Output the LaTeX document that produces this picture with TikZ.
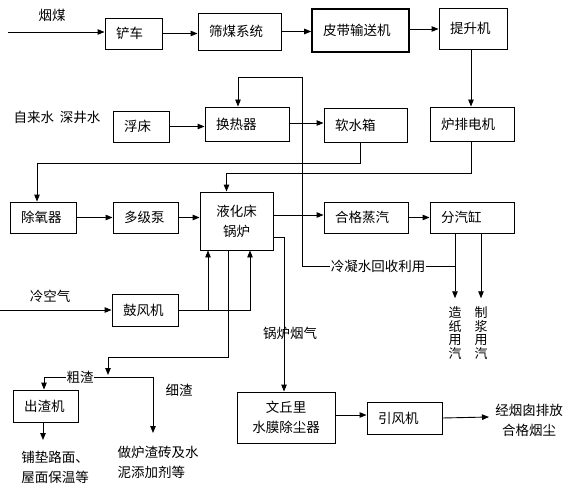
\documentclass[tikz,border=0pt]{standalone}
\usepackage{fontspec}
\setmainfont{Noto Sans CJK SC}
\usetikzlibrary{arrows.meta}
\lineskiplimit=-20pt
\lineskip=0pt
\begin{document}
\begin{tikzpicture}[x=1pt,y=-1pt,
  every node/.style={font=\fontsize{13.5}{20}\selectfont},
  box/.style={draw, line width=0.9pt, inner xsep=11pt, inner ysep=0pt, align=left},
  cbox/.style={draw, line width=0.9pt, inner xsep=6pt, inner ysep=0pt, align=center},
  lbl/.style={inner sep=1pt},
  vtext/.style={inner sep=0pt, align=center, font=\fontsize{13}{13.7}\selectfont},
  arr/.style={line width=0.9pt, -{Triangle[length=7pt,width=5.5pt]}},
  ln/.style={line width=0.9pt}]
\useasboundingbox (0,0) rectangle (573,500);

% boxes
\node[box, text width=35pt, minimum height=31pt] (chanche) at (133.5,33.5) {铲车};
\node[box, text width=61pt, minimum height=37pt] (shai) at (239.5,31.5) {筛煤系统};
\node[box, line width=1.6pt, text width=75pt, minimum height=43pt] (pidai) at (360.5,30.5) {皮带输送机};
\node[box, text width=46pt, minimum height=41pt] (tisheng) at (473,28.5) {提升机};
\node[box, text width=62pt, minimum height=34pt] (lupai) at (472,124) {炉排电机};
\node[box, text width=34pt, minimum height=31pt] (fuchuang) at (141,126.5) {浮床};
\node[box, text width=62pt, minimum height=34pt] (huanre) at (247,124) {换热器};
\node[box, text width=61pt, minimum height=34pt] (ruanshui) at (365.5,125) {软水箱};
\node[box, text width=44pt, minimum height=31pt] (chuyang) at (43,217.5) {除氧器};
\node[box, text width=43pt, minimum height=31pt] (duoji) at (145.5,217.5) {多级泵};
\node[cbox, minimum width=73pt, minimum height=58pt] (guolu) at (236.5,221) {液化床\\锅炉};
\node[box, text width=62pt, minimum height=31pt] (hege) at (366,217.5) {合格蒸汽};
\node[box, text width=62pt, minimum height=31pt] (fenqi) at (472,217.5) {分汽缸};
\node[box, text width=44pt, minimum height=32pt] (gufeng) at (145,310) {鼓风机};
\node[box, text width=43pt, minimum height=32pt] (chuzha) at (45.5,406) {出渣机};
\node[cbox, minimum width=98pt, minimum height=51pt] (wenqiu) at (286,417.5) {文丘里\\水膜除尘器};
\node[box, text width=53pt, minimum height=32pt] (yinfeng) at (404.5,418) {引风机};

% labels
\node[lbl] (yanmei) at (52,15) {烟煤};
\node[lbl] (shui) at (57,117) {自来水\hspace{6pt}深井水};
\node[lbl] (lengkong) at (50,296) {冷空气};
\node[lbl] (lengning) at (378,266) {冷凝水回收利用};
\node[lbl] (yanqi) at (290,333) {锅炉烟气};
\node[inner sep=0pt] (cuzha) at (80,377) {粗渣};
\node[lbl] (xizha) at (179,390) {细渣};
\node[vtext] (zaozhi) at (455,333) {造\\纸\\用\\汽};
\node[vtext] (zhijiang) at (481,333) {制\\浆\\用\\汽};
\node[lbl, align=left] (pudian) at (55,467) {铺垫路面、\\屋面保温等};
\node[lbl, align=left] (zuolu) at (158,462) {做炉渣砖及水\\泥添加剂等};
\node[lbl, align=center] (paifang) at (529,420) {经烟囱排放\\合格烟尘};

% coordinates
\coordinate (in1) at (8,32);
\coordinate (in2) at (0,310);
\coordinate (j1) at (0,163);
\coordinate (j2) at (0,173);
\coordinate (k1) at (302,266);
\coordinate (k2) at (302,77);
\coordinate (s1) at (108,357);
\coordinate (s2) at (108,375);
\coordinate (s3) at (153,377);
\coordinate (s4) at (153,433);
\coordinate (p1) at (43,440);
\coordinate (out1) at (489,417);

% coal line
\draw[arr] (in1) -- (in1 -| chanche.west);
\draw[arr] (chanche.east) -- (chanche.east -| shai.west);
\draw[arr] (shai.east) -- (shai.east -| pidai.west);
\draw[arr] ([yshift=1.5]pidai.east) -- ([yshift=1.5]pidai.east -| tisheng.west);
\draw[arr] ([xshift=-2]tisheng.south) -- ([xshift=-2]tisheng.south |- lupai.north);

% water line
\draw[arr] (fuchuang.east) -- (fuchuang.east -| huanre.west);
\draw[arr] ([yshift=1]huanre.east) -- ([yshift=1]huanre.east -| ruanshui.west);
\draw[arr] ([xshift=-5]ruanshui.south) -- ([xshift=-5]ruanshui.south |- j1) -| ([xshift=-6]chuyang.north);
\draw[arr] (chuyang.east) -- (chuyang.east -| duoji.west);
\draw[arr] (duoji.east) -- (duoji.east -| guolu.west);
\draw[arr] ([xshift=-1]lupai.south) -- ([xshift=-1]lupai.south |- j2) -| ([xshift=-10]guolu.north);

% steam
\draw[arr] ([yshift=2.5]hege.west -| guolu.east) -- ([yshift=2.5]hege.west);
\draw[arr] (hege.east) -- (hege.east -| fenqi.west);
\draw[arr] (zaozhi.north |- fenqi.south) -- ([yshift=8]zaozhi.north);
\draw[arr] (zhijiang.north |- fenqi.south) -- ([yshift=8]zhijiang.north);

% condensate return
\draw[arr] (lengning.west) -- (k1) -- (k2) -| ([xshift=-9]huanre.north);
\draw[ln] (lengning.east) -- (lengning.east -| zaozhi.north);

% air
\draw[arr] (in2) -- (gufeng.west);
\draw[arr] (gufeng.east) -| ([xshift=13.5]guolu.south);
\draw[arr] ([xshift=-28.5]guolu.south |- gufeng.east) -- ([xshift=-28.5]guolu.south);

% slag
\draw[arr] ([xshift=-8.5]guolu.south) |- (s1) -- (s2);
\draw[arr] (cuzha.west) -| ([xshift=-1.5]chuzha.north);
\draw[arr] (cuzha.east) -- (s3) -- (s4);
\draw[arr] ([xshift=-2.5]chuzha.south) -- (p1);

% flue gas
\draw[arr] ([yshift=-16]guolu.east) -| ([xshift=-2]wenqiu.north);
\draw[arr] ([yshift=2.5]wenqiu.east) -- ([yshift=2.5]wenqiu.east -| yinfeng.west);
\draw[arr] (yinfeng.east) -- (out1);
\end{tikzpicture}
\end{document}
